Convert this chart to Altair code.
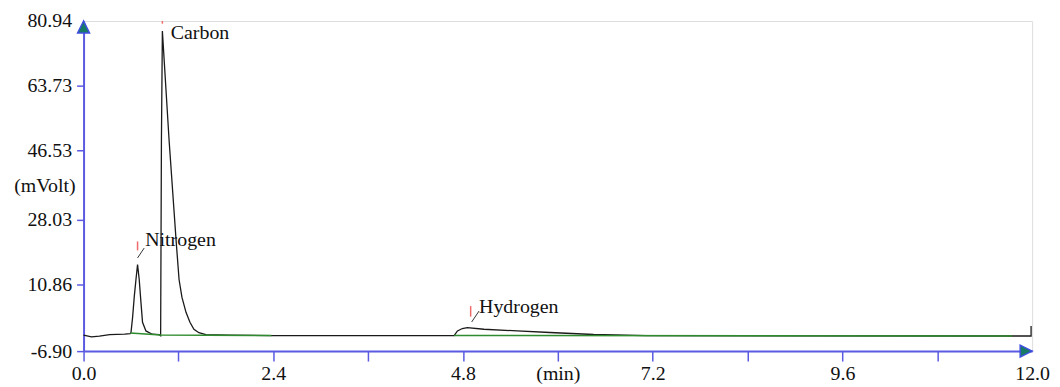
import altair as alt
import pandas as pd

# ---- chromatogram trace (time in min, signal in mVolt) ----
trace_t = [0.00, 0.10, 0.20, 0.33, 0.52, 0.59, 0.600, 0.620, 0.642, 0.663, 0.683, 0.704, 0.726,
           0.746, 0.789, 0.868, 0.956, 0.975, 0.985, 0.997, 1.082, 1.170, 1.208, 1.245, 1.296,
           1.346, 1.396, 1.459, 1.547, 1.836, 2.377, 3.470, 4.688, 4.730, 4.792, 4.855, 5.065,
           5.484, 5.899, 6.453, 7.119, 8.654, 11.748, 11.987, 11.987]
trace_v = [-2.67, -3.12, -2.93, -2.53, -2.40, -2.27, -1.95, 2.02, 7.73, 12.15, 16.12, 12.15, 6.06,
           0.77, -1.53, -2.40, -2.53, -2.80, 49.19, 78.29, 49.19, 22.73, 12.15, 7.39, 3.42,
           0.77, -1.08, -2.01, -2.53, -2.67, -2.75, -2.80, -2.75, -1.53, -0.89, -0.63, -1.08,
           -1.53, -1.95, -2.48, -2.75, -2.83, -2.88, -2.88, -0.21]

# integration baselines (green)
base_seg = [1, 1, 1, 2, 2]
base_t = [0.59, 0.975, 2.377, 4.688, 11.748]
base_v = [-2.05, -2.62, -2.75, -2.75, -2.88]

# peak names and annotation positions
peak_names = ["Nitrogen", "Carbon", "Hydrogen"]
label_t = [0.780, 1.103, 5.003]
label_v = [21.14, 76.26, 3.34]
mark_t = [0.683, 0.997, 4.897]
mark_v1 = [22.28, 80.94, 5.08]
mark_v2 = [19.90, 80.23, 2.28]
lead_t1 = [0.683, 4.910]
lead_v1 = [17.89, 0.85]
lead_t2 = [0.767, 5.003]
lead_v2 = [20.53, 3.76]

# axes
x_min, x_max = 0.0, 12.0
y_min, y_max = -6.90, 80.94
x_ticks = [0.0, 1.2, 2.4, 3.6, 4.8, 6.0, 7.2, 8.4, 9.6, 10.8, 12.0]
x_labels = ["0.0", "", "2.4", "", "4.8", "(min)", "7.2", "", "9.6", "", "12.0"]
y_ticks = [-6.90, 10.86, 28.03, 46.53, 63.73, 80.94]
y_labels = ["-6.90", "10.86", "28.03", "46.53", "63.73", "80.94"]
y_title = "(mVolt)"
y_title_pos = [-0.10, 37.02]

FONT = "Liberation Serif"
AXIS_COLOR = "#5a5ae2"


def label_expr(values, labels):
    expr = "''"
    for val, lab in reversed(list(zip(values, labels))):
        expr = f"datum.value == {val} ? '{lab}' : ({expr})"
    return expr


x_axis = alt.Axis(
    values=x_ticks, labelExpr=label_expr(x_ticks, x_labels), title=None, grid=False,
    domainColor=AXIS_COLOR, domainWidth=2, tickColor=AXIS_COLOR, tickWidth=1.5, tickSize=10,
    tickOpacity={"condition": {"test": "datum.value >= 12", "value": 0}, "value": 1},
    labelFont=FONT, labelFontSize=20, labelColor="#111", labelPadding=3,
    labelFlush=False, labelOverlap=False,
)
y_axis = alt.Axis(
    values=y_ticks, labelExpr=label_expr(y_ticks, y_labels), title=None, grid=False,
    domainColor=AXIS_COLOR, domainWidth=2, tickColor=AXIS_COLOR, tickWidth=1.5, tickSize=7,
    tickOpacity={"condition": {"test": "datum.value >= 80", "value": 0}, "value": 1},
    labelFont=FONT, labelFontSize=20, labelColor="#111", labelPadding=5,
    labelFlush=False, labelOverlap=False,
)
x_scale = alt.Scale(domain=[x_min, x_max], nice=False, zero=False)
y_scale = alt.Scale(domain=[y_min, y_max], nice=False, zero=False)


def X(field="t"):
    return alt.X(f"{field}:Q", scale=x_scale, axis=x_axis)


def Y(field="v"):
    return alt.Y(f"{field}:Q", scale=y_scale, axis=y_axis)


trace_df = pd.DataFrame({"t": trace_t, "v": trace_v, "i": range(len(trace_t))})
base_df = pd.DataFrame({"t": base_t, "v": base_v, "seg": base_seg})
label_df = pd.DataFrame({"t": label_t, "v": label_v, "name": peak_names})
mark_df = pd.DataFrame({"t": mark_t, "v": mark_v1, "v2": mark_v2})
lead_df = pd.DataFrame({"t": lead_t1, "v": lead_v1, "t2": lead_t2, "v2": lead_v2})
title_df = pd.DataFrame({"t": [y_title_pos[0]], "v": [y_title_pos[1]], "name": [y_title]})
arrow_df = pd.DataFrame({"t": [x_min, x_max], "v": [y_max, y_min],
                         "shape": ["M0,0L-1,2L1,2Z", "M0,0L-2,-1L-2,1Z"]})

trace = alt.Chart(trace_df).mark_line(color="#1a1a1a", strokeWidth=1.3).encode(
    x=X(), y=Y(), order="i:Q")
base = alt.Chart(base_df).mark_line(color="#2e8b2e", strokeWidth=1.5).encode(
    x=X(), y=Y(), detail="seg:N")
marks = alt.Chart(mark_df).mark_rule(color="#f06a6a", strokeWidth=1.5).encode(
    x=X(), y=Y(), y2="v2:Q")
leads = alt.Chart(lead_df).mark_rule(color="#333", strokeWidth=1).encode(
    x=X(), y=Y(), x2="t2:Q", y2="v2:Q")
labels = alt.Chart(label_df).mark_text(
    align="left", baseline="alphabetic", font=FONT, fontSize=20, color="#111").encode(
    x=X(), y=Y(), text="name:N")
ytitle = alt.Chart(title_df).mark_text(
    align="right", baseline="middle", font=FONT, fontSize=20, color="#111").encode(
    x=X(), y=Y(), text="name:N")
arrows = alt.Chart(arrow_df).mark_point(
    filled=True, fill="#177a66", stroke="#3f4fe0", strokeWidth=1.5, size=144, opacity=1).encode(
    x=X(), y=Y(), shape=alt.Shape("shape:N", scale=None))

chart = alt.layer(trace, base, marks, leads, labels, ytitle, arrows).properties(
    width=954, height=332,
    padding={"left": 76, "top": 12, "right": 20, "bottom": 36},
    autosize=alt.AutoSizeParams(type="none"),
).configure_view(stroke=None).configure(background="white")

chart.save("out.html", embed_options={"renderer": "svg", "actions": False})
